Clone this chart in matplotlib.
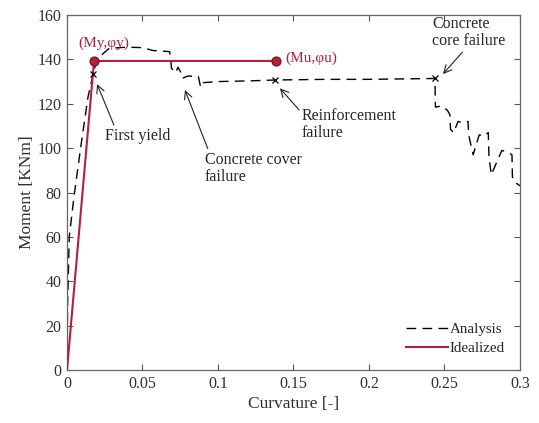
import matplotlib
matplotlib.use("Agg")
import matplotlib.pyplot as plt
import numpy as np

plt.rcParams['font.family'] = ['Liberation Serif', 'DejaVu Serif']
plt.rcParams['mathtext.fontset'] = 'stix'

# Analysis moment-curvature curve
analysis_curv = [0, 0.0004, 0.0015, 0.0046, 0.009, 0.0139, 0.0174, 0.019, 0.022, 0.028,
                 0.04, 0.05, 0.057, 0.068, 0.0688, 0.0692, 0.072, 0.0735, 0.0755, 0.0765,
                 0.080, 0.087, 0.0885, 0.090, 0.10, 0.12, 0.1377, 0.17, 0.2, 0.2437,
                 0.2440, 0.2480, 0.2520, 0.2536, 0.2540, 0.2560, 0.2590, 0.2620, 0.2656,
                 0.2660, 0.2690, 0.2730, 0.2760, 0.2790, 0.2795, 0.2810, 0.2880, 0.2920,
                 0.2947, 0.2950, 0.2970, 0.300]
analysis_mom = [0, 30, 60, 78, 100, 123, 133.5, 138, 141.5, 145,
                145.5, 145.3, 144, 143.5, 139.5, 136, 134, 136.5, 134, 131.5,
                132.5, 132.3, 127.5, 129.5, 130, 130.3, 130.7, 131, 131, 131.4,
                118.5, 119, 117, 115, 108.5, 107, 112, 111.5, 112,
                106, 97, 106, 105.5, 107, 96, 88, 99, 98,
                97, 87, 84.5, 83]

# Idealized bilinear curve
ideal_curv = [0, 0.0179, 0.1384]
ideal_mom = [0, 139.3, 139.3]

# Failure points (x markers)
fail_curv = [0.0174, 0.1377, 0.2437]
fail_mom = [133.5, 130.7, 131.4]

red = '#B3203C'

fig = plt.figure(figsize=(5.39, 4.23), dpi=100)
ax = fig.add_axes([0.1243, 0.1253, 0.9647 - 0.1243, 0.9645 - 0.1253])

ax.plot(analysis_curv, analysis_mom, color='black', lw=1.0, ls=(0, (7, 4.5)), label='Analysis', zorder=2)
ax.plot(ideal_curv, ideal_mom, color=red, lw=1.5, label='Idealized', zorder=3)
ax.plot(ideal_curv[1:], ideal_mom[1:], 'o', color=red, mec='#6a1020', mew=0.8, ms=6.5, zorder=4)
ax.plot(fail_curv, fail_mom, 'x', color='black', ms=5, mew=0.9, zorder=5)

ax.set_xlim(0, 0.3)
ax.set_ylim(0, 160)
ax.set_xticks(np.arange(0, 0.301, 0.05))
ax.set_xticklabels(['0', '0.05', '0.1', '0.15', '0.2', '0.25', '0.3'])
ax.set_yticks(np.arange(0, 161, 20))
ax.tick_params(direction='in', top=True, right=True, length=4, width=0.8,
               colors='#555555', labelsize=11.5, labelcolor='#303030', pad=4)
for s in ax.spines.values():
    s.set_color('#666666')
    s.set_linewidth(0.9)

ax.set_xlabel('Curvature [-]', fontsize=12.5, color='#303030', labelpad=3)
ax.set_ylabel('Moment [KNm]', fontsize=12.5, color='#303030', labelpad=2)

ax.text(0.0242, 147.4, '(My,φy)', color=red, fontsize=11, ha='center', va='center')
ax.text(0.1443, 140.4, '(Mu,φu)', color=red, fontsize=11, ha='left', va='center')

arrow = dict(arrowstyle='->', color='#222222', lw=0.8, shrinkA=0, shrinkB=0,
             mutation_scale=14)
ax.annotate('First yield', xy=(0.0199, 128.9), xytext=(0.0470, 105.5),
            fontsize=11.5, ha='center', va='center', color='#262626',
            arrowprops=dict(arrow, relpos=(0.15, 1.0)))
ax.annotate('Concrete cover\nfailure', xy=(0.0781, 126.2), xytext=(0.0914, 91),
            fontsize=11.5, ha='left', va='center', color='#262626', linespacing=1.1,
            arrowprops=dict(arrow, relpos=(0.04, 1.0)))
ax.annotate('Reinforcement\nfailure', xy=(0.141, 127), xytext=(0.1556, 110.5),
            fontsize=11.5, ha='left', va='center', color='#262626', linespacing=1.1,
            arrowprops=dict(arrow, relpos=(0.0, 0.85)))
ax.annotate('Concrete\ncore failure', xy=(0.249, 133.4), xytext=(0.2417, 152),
            fontsize=11.5, ha='left', va='center', color='#262626', linespacing=1.1,
            arrowprops=dict(arrow, relpos=(0.45, 0.0)))

leg = ax.legend(loc='lower right', frameon=False, fontsize=10.8, handlelength=2.8,
                handletextpad=0.1, labelspacing=0.35, borderaxespad=0.6)
for t in leg.get_texts():
    t.set_color('#262626')

fig.savefig('out.png', dpi=100)
